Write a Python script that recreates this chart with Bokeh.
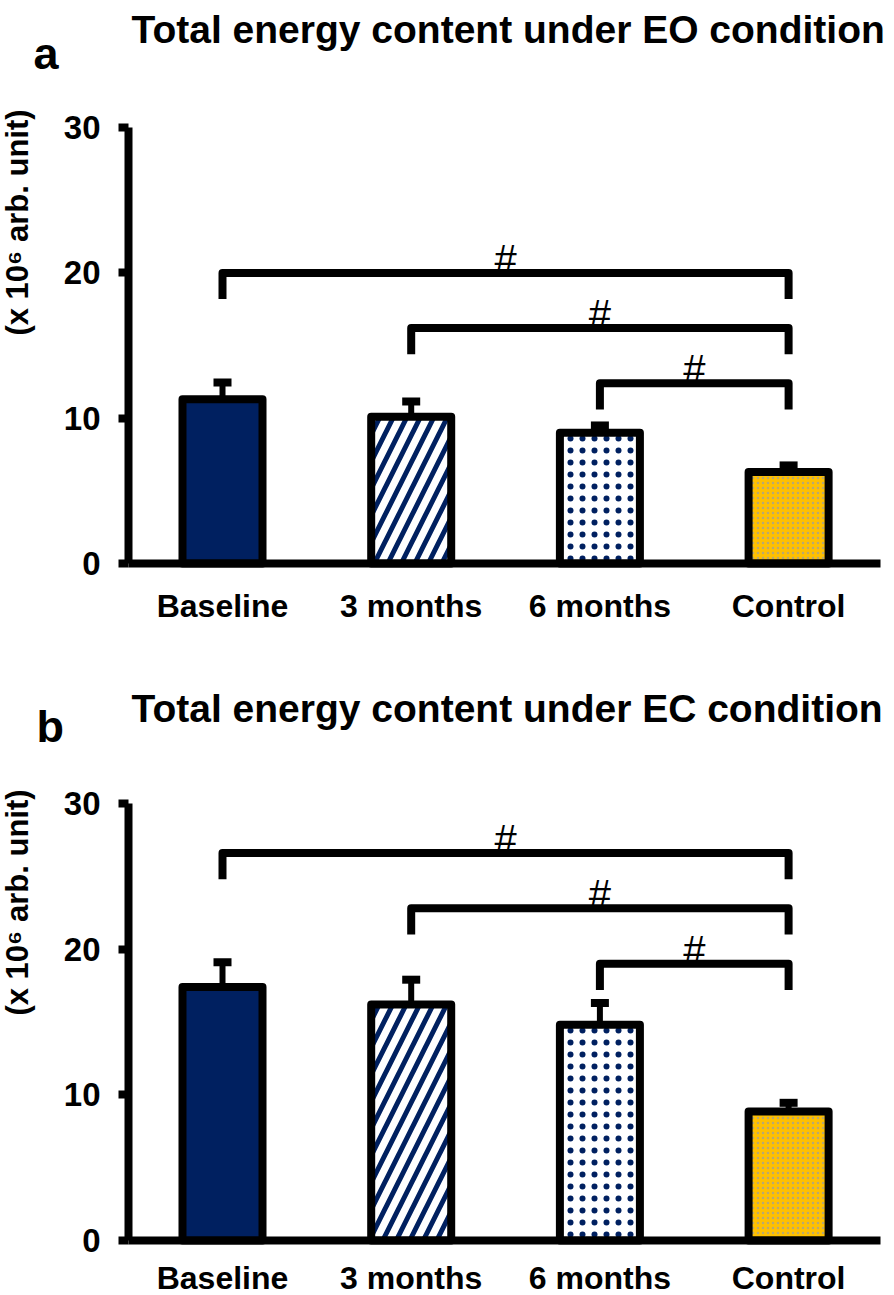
from math import pi
from bokeh.plotting import figure
from bokeh.layouts import column
from bokeh.models import Range1d, FixedTicker, Label, Whisker, TeeHead, ColumnDataSource
from bokeh.embed import file_html
from bokeh.resources import INLINE
from bokeh.core.properties import value

# ---------------- data ----------------
categories = ["Baseline", "3 months", "6 months", "Control"]
eo_means = [11.3, 10.1, 9.0, 6.3]
eo_errors = [1.15, 1.05, 0.5, 0.45]
ec_means = [17.4, 16.2, 14.8, 8.85]
ec_errors = [1.7, 1.7, 1.5, 0.6]
comparisons = [(0, 3), (1, 3), (2, 3)]
comparison_marks = ["#", "#", "#"]
eo_bracket_heights = [20.0, 16.2, 12.4]
ec_bracket_heights = [26.6, 22.8, 19.0]
y_ticks = [0, 10, 20, 30]
y_label = "(x 10\u2076 arb. unit)"
titles = ["Total energy content under EO condition", "Total energy content under EC condition"]
letters = ["a", "b"]

# ---------------- styles ----------------
FONT = "Liberation Sans"
NAVY = "#002060"
GOLD = "#FFC000"

bar_styles = [
    dict(fill_color=NAVY),
    dict(fill_color="white", hatch_pattern="/", hatch_color=NAVY, hatch_scale=27, hatch_weight=5),
    dict(fill_color="white", hatch_pattern=".", hatch_color=NAVY, hatch_scale=12,
         hatch_weight=0.1),
    dict(fill_color=GOLD, hatch_pattern=".", hatch_color="#8a98b8", hatch_scale=5,
         hatch_weight=0.3, hatch_alpha=0.6),
]

W = 894
XPX = 188.7            # px per category step
XC1 = 222              # px of first category
YAX_PX = 128           # px of y-axis line
XAX_END_PX = 880
BAR_W = 0.424
LEG = 1.8


def panel(title, letter, means, errors, br_heights, height, y0_px, ypx,
          title_x, title_base, letter_x, letter_base, ylab_center, xlab_standoff):
    def dx(fx):
        return 1 + (fx - XC1) / XPX

    def dy(fy):
        return (y0_px - fy) / ypx

    p = figure(width=W, height=height, x_range=Range1d(dx(0), dx(W)),
               y_range=Range1d(dy(height), dy(0)),
               min_border_left=0, min_border_right=0, min_border_top=0, min_border_bottom=0,
               output_backend="svg", toolbar_location=None, outline_line_color=None,
               background_fill_color="white")
    p.title.visible = False
    p.grid.visible = False

    xs = [i + 1 for i in range(len(categories))]
    for i, x in enumerate(xs):
        p.vbar(x=[x], top=[means[i]], bottom=0, width=BAR_W, line_color="black",
               line_width=8, line_join="round", **bar_styles[i])

    wsrc = ColumnDataSource(dict(x=xs, lower=means, upper=[m + e for m, e in zip(means, errors)]))
    p.add_layout(Whisker(base="x", lower="lower", upper="upper", source=wsrc,
                         line_color="black", line_width=6, lower_head=None,
                         upper_head=TeeHead(size=18, line_width=8, line_color="black")))

    bxs = [[a + 1, a + 1, b + 1, b + 1] for a, b in comparisons]
    bys = [[h - LEG, h, h, h - LEG] for h in br_heights]
    p.multi_line(xs=bxs, ys=bys, line_color="black", line_width=8, line_join="round")
    p.text(x=[(a + b) / 2 + 1 for a, b in comparisons], y=br_heights, text=comparison_marks,
           text_align="center", text_baseline="alphabetic", y_offset=-14,
           text_font=value(FONT), text_font_size="40px", text_color="black")

    # axes (drawn at fixed positions inside the full-canvas frame)
    ya = p.yaxis[0]
    ya.fixed_location = dx(YAX_PX)
    ya.ticker = FixedTicker(ticks=y_ticks)
    ya.bounds = (0, 30)
    ya.axis_line_width = 8
    ya.major_tick_line_width = 8
    ya.major_tick_out = 10
    ya.major_tick_in = 0
    ya.minor_tick_line_color = None
    ya.major_label_standoff = 18
    ya.major_label_text_font = FONT
    ya.major_label_text_font_style = "bold"
    ya.major_label_text_font_size = "33px"
    ya.major_label_text_color = "black"

    xa = p.xaxis[0]
    xa.fixed_location = 0
    xa.ticker = FixedTicker(ticks=xs)
    xa.major_label_overrides = {x: c for x, c in zip(xs, categories)}
    xa.bounds = (dx(YAX_PX), dx(XAX_END_PX))
    xa.axis_line_width = 8
    xa.major_tick_line_color = None
    xa.minor_tick_line_color = None
    xa.major_tick_out = 0
    xa.major_tick_in = 0
    xa.major_label_standoff = xlab_standoff
    xa.major_label_text_font = FONT
    xa.major_label_text_font_style = "bold"
    xa.major_label_text_font_size = "32px"
    xa.major_label_text_color = "black"

    p.add_layout(Label(x=dx(title_x), y=dy(title_base), text=title, text_align="left",
                       text_baseline="alphabetic", text_font=FONT, text_font_style="bold",
                       text_font_size="39px", text_color="black"))
    p.add_layout(Label(x=dx(letter_x), y=dy(letter_base), text=letter, text_align="left",
                       text_baseline="alphabetic", text_font=FONT, text_font_style="bold",
                       text_font_size="45px", text_color="black"))
    p.add_layout(Label(x=dx(17), y=dy(ylab_center), text=y_label, angle=pi / 2,
                       text_align="center", text_baseline="middle", text_font=FONT,
                       text_font_style="bold", text_font_size="31px", text_color="black"))
    return p


pa = panel(titles[0], letters[0], eo_means, eo_errors, eo_bracket_heights,
           height=640, y0_px=563, ypx=14.53, title_x=131, title_base=29,
           letter_x=33, letter_base=53, ylab_center=222, xlab_standoff=24)
pb = panel(titles[1], letters[1], ec_means, ec_errors, ec_bracket_heights,
           height=655, y0_px=600, ypx=14.57, title_x=131, title_base=68,
           letter_x=36, letter_base=86, ylab_center=262, xlab_standoff=19)

layout = column(pa, pb, spacing=0)
open("out.html", "w").write(file_html(layout, INLINE))
